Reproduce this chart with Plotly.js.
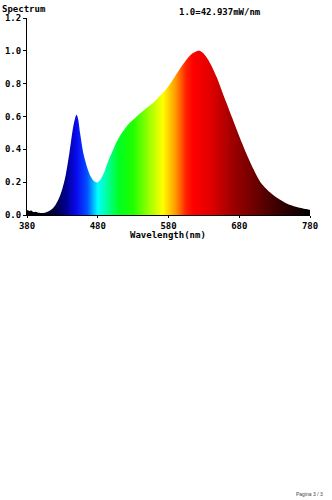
<!DOCTYPE html>
<html><head><meta charset="utf-8">
<script src="https://cdn.plot.ly/plotly-3.0.1.min.js"></script>
<style>html,body{margin:0;padding:0;background:#fff}#c{width:332px;height:500px}</style>
</head><body><div id="c"></div>
<script>
const wavelengths = [380,383,386,389,392,395,400,405,410,415,420,425,430,435,440,445,448,450,452,455,460,465,470,475,479,483,487,490,495,500,505,510,515,520,525,530,540,550,560,570,580,590,600,607,614,620,624,628,633,640,648,656,664,672,680,690,700,710,723,735,747,760,770,776,780];
const intensity = [0.03,0.025,0.028,0.018,0.02,0.015,0.012,0.014,0.022,0.035,0.06,0.10,0.16,0.25,0.38,0.53,0.59,0.61,0.59,0.50,0.37,0.29,0.235,0.205,0.198,0.21,0.24,0.27,0.33,0.38,0.43,0.47,0.505,0.535,0.56,0.58,0.62,0.655,0.69,0.735,0.785,0.85,0.915,0.955,0.985,0.998,1.0,0.99,0.965,0.915,0.84,0.75,0.66,0.57,0.48,0.375,0.28,0.20,0.14,0.10,0.07,0.05,0.04,0.035,0.03];
const colorStops = [[380,'#000000'],[400,'#000010'],[420,'#000040'],[435,'#000090'],[450,'#0a0af0'],[465,'#0050ff'],[480,'#00ffff'],[495,'#00ff90'],[510,'#00ff20'],[530,'#20ff00'],[555,'#aaff00'],[572,'#ffff00'],[590,'#ff9900'],[605,'#ff2000'],[615,'#ff0000'],[640,'#e00000'],[670,'#a00000'],[700,'#700000'],[730,'#400000'],[760,'#180000'],[780,'#000000']];
const xTicks = [380,480,580,680,780];
const yTicks = [0,0.2,0.4,0.6,0.8,1.0,1.2];

const xMin = 380, xMax = 780;
const colorscale = colorStops.map(s => [(s[0]-xMin)/(xMax-xMin), s[1]]);
const F = {family:'DejaVu Sans Mono, monospace', size:9, color:'#000', weight:'bold'};

const trace = {
  x: wavelengths, y: intensity, type:'scatter', mode:'lines',
  line:{width:0.6, color:'rgba(0,0,0,0)', shape:'spline', smoothing:0.8},
  fill:'tozeroy',
  fillgradient:{type:'horizontal', colorscale: colorscale, start: xMin, stop: xMax},
  hoverinfo:'skip'
};
const layout = {
  width:332, height:500,
  margin:{l:27, r:22, t:18, b:285},
  paper_bgcolor:'#fff', plot_bgcolor:'#fff',
  showlegend:false,
  xaxis:{range:[xMin,xMax], tickvals:xTicks, ticktext:xTicks.map(String), showgrid:false, zeroline:false,
    showline:true, linecolor:'#000', linewidth:1, ticks:'outside', ticklen:2, tickcolor:'#000', tickfont:F},
  yaxis:{range:[0,1.2], tickvals:yTicks, ticktext:yTicks.map(v=>v.toFixed(1)), showgrid:false, zeroline:false,
    showline:true, linecolor:'#000', linewidth:1, ticks:'outside', ticklen:3, tickcolor:'#000', tickfont:F},
  annotations:[
    {text:'Spectrum', xref:'paper', yref:'paper', x:-0.0954, y:1.045, xanchor:'left', yanchor:'middle', showarrow:false, font:F},
    {text:'1.0=42.937mW/nm', xref:'paper', yref:'paper', x:0.682, y:1.03, xanchor:'center', yanchor:'middle', showarrow:false, font:F},
    {text:'Wavelength(nm)', xref:'paper', yref:'paper', x:0.498, y:-0.102, xanchor:'center', yanchor:'middle', showarrow:false, font:F},
    {text:'Pagina 3 / 3', xref:'paper', yref:'paper', x:0.9965, y:-1.416, xanchor:'center', yanchor:'middle', showarrow:false,
      font:{family:'Liberation Sans, Arial, sans-serif', size:5, color:'#444'}}
  ]
};
Plotly.newPlot('c', [trace], layout, {staticPlot:true, displayModeBar:false});
</script></body></html>
